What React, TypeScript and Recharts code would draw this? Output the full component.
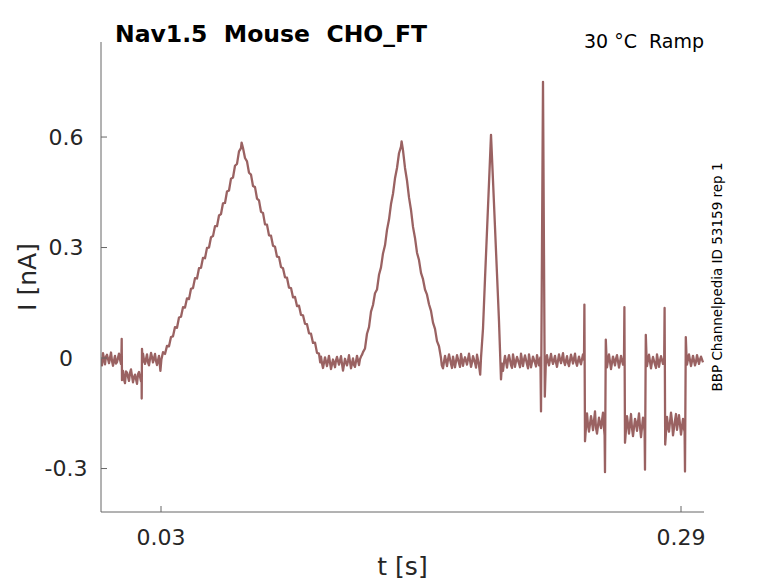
import { LineChart, Line, XAxis, YAxis, Label } from "recharts";

// current trace, [time ms, current nA], split by protocol phase
const holdA = [
  [0, -0.002], [0.5, -0.02], [1, 0.013], [2, -0.017], [2.5, 0.004], [3, 0.009], [4, -0.014],
  [5, 0.015], [5.5, -0.008], [6, -0.021], [7, 0.006], [7.5, -0.015], [8, -0.011], [9, 0.012],
  [9.5, -0.004], [10, -0.016],
];
const stepA = [
  [10.2, 0.004], [10.35, 0.052], [10.5, -0.06], [11, -0.035], [11.5, -0.058], [12, -0.068],
  [12.5, -0.036], [13, -0.04], [14, -0.062], [14.5, -0.04], [15, -0.031], [16, -0.066],
  [16.5, -0.052], [17, -0.045], [18, -0.07], [18.5, -0.044], [19, -0.038], [20, -0.063],
  [20.3, -0.05], [20.35, -0.11], [20.5, 0.025], [20.8, -0.01],
];
const holdB = [
  [21, 0.012], [21.5, -0.006], [22, -0.016], [23, 0.01], [23.5, -0.012], [24, -0.02],
  [25, 0.014], [25.5, 0.002], [26, -0.012], [27, 0.011], [27.5, -0.008], [28, -0.019],
  [29, 0.006], [29.7, -0.035], [30.2, -0.004],
];
const ramp1Up = [
  [31, 0.016], [32, 0.011], [33, 0.033], [34, 0.032], [35, 0.057], [36, 0.059], [37, 0.084],
  [38, 0.082], [39, 0.11], [40, 0.112], [41, 0.138], [42, 0.137], [43, 0.162], [44, 0.16],
  [45, 0.188], [46, 0.19], [47, 0.217], [48, 0.216], [49, 0.244], [50, 0.245], [51, 0.272],
  [52, 0.271], [53, 0.299], [54, 0.3], [55, 0.328], [56, 0.331], [57, 0.358], [58, 0.358],
  [59, 0.387], [60, 0.391], [61, 0.42], [62, 0.421], [63, 0.452], [64, 0.455], [65, 0.487],
  [66, 0.49], [67, 0.522], [68, 0.527], [69, 0.561], [70, 0.57], [70.3, 0.585],
];
const ramp1Down = [
  [71, 0.57], [72, 0.543], [73, 0.534], [74, 0.503], [75, 0.498], [76, 0.467], [77, 0.464],
  [78, 0.433], [79, 0.428], [80, 0.397], [81, 0.394], [82, 0.363], [83, 0.362], [84, 0.333],
  [85, 0.332], [86, 0.305], [87, 0.302], [88, 0.275], [89, 0.274], [90, 0.247], [91, 0.244],
  [92, 0.219], [93, 0.218], [94, 0.191], [95, 0.19], [96, 0.165], [97, 0.166], [98, 0.141],
  [99, 0.142], [100, 0.117], [101, 0.116], [102, 0.093], [103, 0.092], [104, 0.067],
  [105, 0.066], [106, 0.041], [107, 0.042], [108, 0.014], [109, 0.012], [109.6, -0.012],
];
const holdC = [
  [110, 0.004], [110.5, -0.014], [111, -0.027], [112, 0.002], [112.5, -0.01], [113, -0.022],
  [114, 0.006], [114.5, -0.012], [115, -0.03], [116, -0.004], [117, -0.025], [117.5, -0.006],
  [118, 0.003], [119, -0.018], [120, 0.005], [120.5, -0.016], [121, -0.034], [122, -0.002],
  [123, -0.02], [123.5, -0.008], [124, 0.008], [125, -0.028], [126, -0.001], [126.5, -0.019],
  [127, -0.024], [128, 0.006], [129, -0.019], [129.5, -0.003], [130, 0.004],
];
const ramp2 = [
  [130.6, 0.01], [131, 0.016], [132, 0.026], [133, 0.066], [134, 0.084], [135, 0.126],
  [136, 0.144], [137, 0.176], [138, 0.186], [139, 0.226], [140, 0.246], [141, 0.284],
  [142, 0.306], [143, 0.348], [144, 0.376], [145, 0.418], [146, 0.446], [147, 0.488],
  [148, 0.516], [149, 0.556], [150, 0.574], [150.3, 0.588],
  [151, 0.564], [152, 0.516], [153, 0.482], [154, 0.436], [155, 0.402], [156, 0.356],
  [157, 0.326], [158, 0.286], [159, 0.266], [160, 0.231], [161, 0.214], [162, 0.186],
  [163, 0.172], [164, 0.146], [165, 0.128], [166, 0.096], [167, 0.079], [168, 0.046],
  [169, 0.032], [170, 0.0], [170.4, -0.02],
];
const holdD = [
  [171, -0.028], [171.5, -0.01], [172, 0.006], [173, -0.022], [173.5, -0.004], [174, 0.01],
  [175, -0.016], [175.5, -0.027], [176, 0.004], [177, -0.025], [177.5, -0.009], [178, 0.008],
  [179, -0.014], [179.5, -0.024], [180, 0.011], [181, -0.021], [181.5, -0.006], [182, 0.002],
  [183, -0.018], [183.5, -0.003], [184, 0.012], [185, -0.024], [185.5, -0.012], [186, 0.005],
  [187, -0.013], [187.5, -0.026], [188, 0.009], [189, -0.02], [189.6, -0.045],
];
const ramp3 = [
  [190, 0.0], [191, 0.08], [192, 0.215], [193, 0.345], [194, 0.475], [195, 0.606],
  [196, 0.482], [197, 0.355], [198, 0.228], [199, 0.1], [200, -0.058], [200.5, -0.015],
];
const holdE = [
  [201, -0.035], [201.5, -0.012], [202, 0.006], [203, -0.026], [203.5, -0.004], [204, 0.008],
  [205, -0.019], [205.5, -0.027], [206, 0.01], [207, -0.024], [207.5, -0.008], [208, 0.003],
  [209, -0.015], [209.5, -0.025], [210, 0.012], [211, -0.022], [211.5, -0.005], [212, 0.007],
  [213, -0.017], [213.5, -0.028], [214, 0.01], [215, -0.025], [215.5, -0.011], [216, 0.004],
  [217, -0.013], [217.5, -0.023], [218, 0.008], [219, -0.02], [219.7, 0.002],
];
const ramp4 = [[220, -0.145], [221, 0.75], [221.9, -0.105], [222.4, -0.015]];
const holdF = [
  [223, 0.008], [223.5, -0.01], [224, -0.02], [225, 0.011], [225.5, -0.006], [226, -0.016],
  [227, 0.006], [227.5, -0.012], [228, -0.024], [229, 0.01], [229.5, -0.004], [230, -0.014],
  [231, 0.013], [231.5, -0.009], [232, -0.019], [233, 0.005], [233.5, -0.013], [234, -0.022],
  [235, 0.009], [235.5, -0.002], [236, -0.015], [237, 0.012], [237.5, -0.011], [238, -0.021],
  [239, 0.004], [239.5, -0.009], [240, -0.017], [241, 0.01], [241.5, -0.005],
];
const steps = [
  [241.7, 0.145], [242, -0.226], [243, -0.15], [243.5, -0.182], [244, -0.2], [245, -0.158],
  [245.5, -0.174], [246, -0.196], [247, -0.145], [247.5, -0.19], [248, -0.205], [249, -0.162],
  [249.5, -0.178], [250, -0.19], [251, -0.148], [251.4, -0.184], [251.8, -0.21],
  [252, -0.31], [252.4, 0.05], [252.8, -0.005],
  [253, -0.025], [253.5, -0.006], [254, 0.01], [255, -0.03], [255.5, -0.012], [256, 0.004],
  [257, -0.02], [257.5, -0.002], [258, 0.008], [259, -0.026], [259.5, -0.011], [260, 0.006],
  [261, -0.018], [261.5, 0.0],
  [261.7, 0.138], [262, -0.23], [263, -0.158], [263.5, -0.18], [264, -0.205], [265, -0.152],
  [265.5, -0.19], [266, -0.212], [267, -0.165], [267.5, -0.176], [268, -0.198], [269, -0.15],
  [269.5, -0.186], [270, -0.215], [271, -0.162], [271.4, -0.178], [271.8, -0.2],
  [272, -0.303], [272.4, 0.063], [272.8, -0.004],
  [273, -0.022], [273.5, -0.004], [274, 0.009], [275, -0.028], [275.5, -0.01], [276, 0.003],
  [277, -0.018], [277.5, -0.027], [278, 0.01], [279, -0.024], [279.5, -0.007], [280, 0.005],
  [281, -0.016], [281.6, 0.0],
  [281.8, 0.136], [282.1, -0.235], [283, -0.16], [283.5, -0.186], [284, -0.2], [285, -0.148],
  [285.5, -0.172], [286, -0.21], [287, -0.17], [287.5, -0.152], [288, -0.195], [289, -0.155],
  [289.5, -0.18], [290, -0.208], [291, -0.165], [291.4, -0.19], [291.8, -0.2],
  [292, -0.308], [292.4, 0.057], [292.8, -0.002],
  [293, -0.018], [293.5, -0.003], [294, 0.01], [295, -0.022], [295.5, -0.008], [296, 0.006],
  [297, -0.02], [297.5, -0.01], [298, 0.008], [299, -0.016], [299.5, -0.004], [300, 0.004],
  [301, -0.012],
];

const xTicks = [30, 290];
const yTicks = [-0.3, 0, 0.3, 0.6];

const data = [holdA, stepA, holdB, ramp1Up, ramp1Down, holdC, ramp2, holdD, ramp3, holdE, ramp4, holdF, steps]
  .flat()
  .map(([t, i]) => ({ t, i }));

const FONT = "DejaVu Sans";
const AXIS = "#666666";
const TRACE = "#9a6262";

const XTick = (props: any) => {
  const { x, y, payload } = props;
  return (
    <g>
      <line x1={x} y1={y} x2={x} y2={y - 6} stroke={AXIS} />
      <text x={x} y={y + 25} textAnchor="middle" dominantBaseline="central"
        fontFamily={FONT} fontSize={22} fill="#262626">
        {String(payload.value / 1000)}
      </text>
    </g>
  );
};

const YTick = (props: any) => {
  const { x, y, payload } = props;
  return (
    <g>
      <line x1={x} y1={y} x2={x + 6} y2={y} stroke={AXIS} />
      <text x={x - 35} y={y} textAnchor="middle" dominantBaseline="central"
        fontFamily={FONT} fontSize={22} fill="#262626">
        {String(payload.value)}
      </text>
    </g>
  );
};

export default function App() {
  return (
    <div style={{ position: "relative", width: 770, height: 575 }}>
      <LineChart width={770} height={575} data={data}
        margin={{ top: 34, right: 74, bottom: 0, left: 0 }}>
        <XAxis dataKey="t" type="number" domain={[0, 301.5]} allowDataOverflow
          ticks={xTicks} tick={<XTick />} tickSize={0} tickMargin={0} height={71}
          axisLine={{ stroke: AXIS }} tickLine={false}>
          <Label content={(p: any) => {
            const vb = p.viewBox;
            return (
              <text x={vb.x + vb.width / 2} y={567} textAnchor="middle"
                fontFamily={FONT} fontSize={25} fill="#262626">t [s]</text>
            );
          }} />
        </XAxis>
        <YAxis type="number" domain={[-0.418, 0.858]} allowDataOverflow
          ticks={yTicks} tick={<YTick />} tickSize={0} tickMargin={0} width={93}
          axisLine={{ stroke: AXIS }} tickLine={false}>
          <Label content={(p: any) => {
            const vb = p.viewBox;
            const cy = vb.y + vb.height / 2;
            return (
              <text x={19.5} y={cy} textAnchor="middle" dominantBaseline="central"
                transform={`rotate(-90, 19.5, ${cy})`}
                fontFamily={FONT} fontSize={25} fill="#262626">I [nA]</text>
            );
          }} />
        </YAxis>
        <Line type="linear" dataKey="i" stroke={TRACE} strokeWidth={2.3}
          strokeLinejoin="round" dot={false} activeDot={false} isAnimationActive={false} />
      </LineChart>
      <svg width={770} height={575}
        style={{ position: "absolute", left: 0, top: 0, pointerEvents: "none" }}>
        <text x={107} y={34} fontFamily={FONT} fontWeight="bold" fontSize={23.5}
          fill="#000" style={{ whiteSpace: "pre" }}>{"Nav1.5  Mouse  CHO_FT"}</text>
        <text x={696} y={40} textAnchor="end" fontFamily={FONT} fontSize={19}
          fill="#000" style={{ whiteSpace: "pre" }}>{"30 °C  Ramp"}</text>
        <text x={709} y={269} textAnchor="middle" dominantBaseline="central"
          transform="rotate(-90, 709, 269)" fontFamily={FONT} fontSize={13.5}
          fill="#000">BBP Channelpedia ID 53159 rep 1</text>
      </svg>
    </div>
  );
}
